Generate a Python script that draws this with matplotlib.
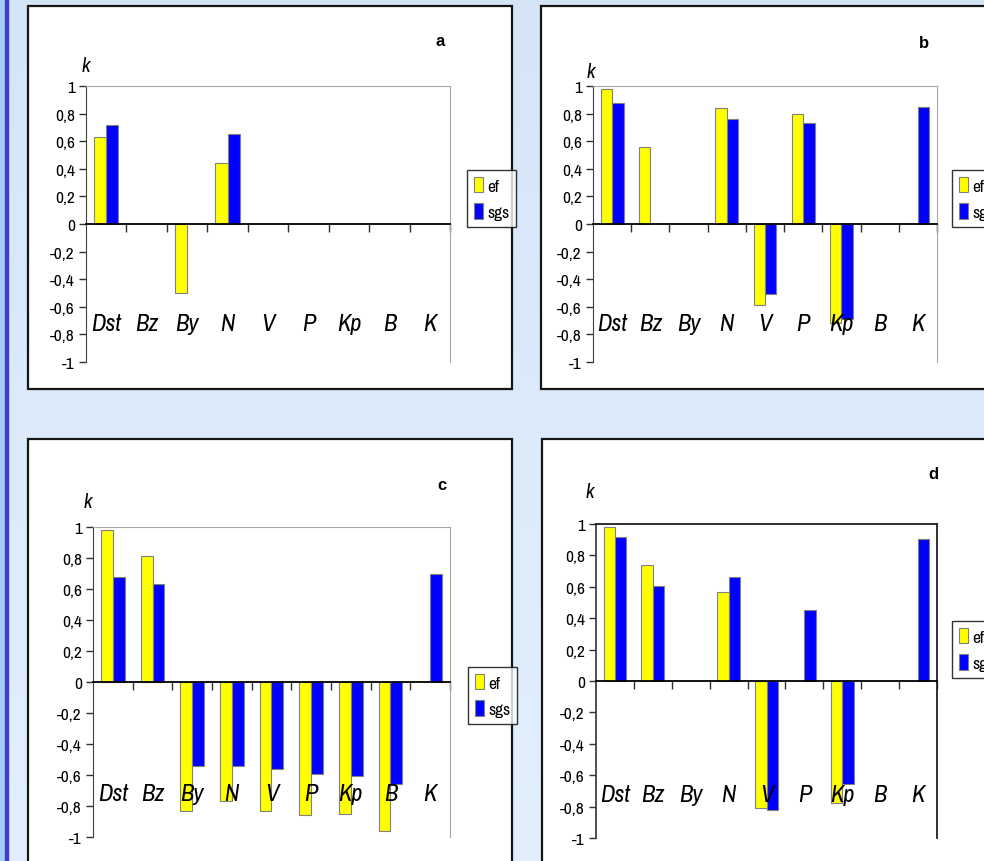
import matplotlib.pyplot as plt
import numpy as np
from matplotlib.patches import Rectangle

plt.rcParams['font.family'] = ['Archivo Narrow', 'Liberation Sans', 'DejaVu Sans']

W, H = 984, 862
nan = np.nan

categories = ['Dst', 'Bz', 'By', 'N', 'V', 'P', 'Kp', 'B', 'K']
series_names = ['ef', 'sgs']

a_ef = [0.63, nan, -0.50, 0.44, nan, nan, nan, nan, nan]
a_sgs = [0.72, nan, nan, 0.65, nan, nan, nan, nan, nan]
b_ef = [0.98, 0.56, nan, 0.84, -0.585, 0.80, -0.72, nan, nan]
b_sgs = [0.88, nan, nan, 0.76, -0.51, 0.73, -0.69, nan, 0.85]
c_ef = [0.98, 0.81, -0.83, -0.77, -0.83, -0.86, -0.85, -0.96, nan]
c_sgs = [0.675, 0.635, -0.545, -0.545, -0.56, -0.595, -0.605, -0.655, 0.695]
d_ef = [0.98, 0.74, nan, 0.57, -0.81, nan, -0.775, nan, nan]
d_sgs = [0.915, 0.605, nan, 0.66, -0.82, 0.45, -0.655, nan, 0.905]

yticks = [-1, -0.8, -0.6, -0.4, -0.2, 0, 0.2, 0.4, 0.6, 0.8, 1]


def px(x0, y0, x1, y1):
    # pixel box (top-left origin) -> figure fraction rect
    return [x0 / W, 1 - y1 / H, (x1 - x0) / W, (y1 - y0) / H]


def fmt(v):
    if abs(v - round(v)) < 1e-9:
        return str(int(round(v)))
    return f"{v:.1f}".replace('.', ',')


fig = plt.figure(figsize=(W / 100, H / 100), dpi=100)

# page background
bg = fig.add_axes([0, 0, 1, 1], zorder=-5)
grad = np.linspace(0, 1, 256).reshape(-1, 1)
top = np.array([0.835, 0.898, 0.972])
bot = np.array([0.890, 0.937, 0.992])
img = top + (bot - top) * grad[..., None]
bg.imshow(img, aspect='auto', extent=[0, 1, 0, 1])
bg.add_patch(Rectangle((0, 0), 5 / W, 1, color='#a6cdf0'))
bg.add_patch(Rectangle((5 / W, 0), 2.5 / W, 1, color='#3c3ccf'))
bg.set_xlim(0, 1)
bg.set_ylim(0, 1)
bg.axis('off')

panels = [
    dict(ef=a_ef, sgs=a_sgs, box=(28, 7, 512, 390), ax=(86, 87, 450, 363),
         leg=(467, 171), letter='a', lpos=(440, 42), kpos=(86, 67), spine='#a8a8a8'),
    dict(ef=b_ef, sgs=b_sgs, box=(541, 7, 1010, 390), ax=(593, 87, 937, 363),
         leg=(952, 171), letter='b', lpos=(924, 43), kpos=(591, 72), spine='#a8a8a8'),
    dict(ef=c_ef, sgs=c_sgs, box=(28, 440, 512, 880), ax=(93, 528, 450, 838),
         leg=(468, 668), letter='c', lpos=(442, 486), kpos=(88, 503), spine='#a8a8a8'),
    dict(ef=d_ef, sgs=d_sgs, box=(542, 440, 1010, 880), ax=(596, 525, 937, 839),
         leg=(952, 622), letter='d', lpos=(933, 475), kpos=(590, 493), spine='#202020'),
]

x = np.arange(len(categories))
bw = 0.3

for p in panels:
    bx0, by0, bx1, by1 = p['box']
    fig.add_artist(Rectangle((bx0 / W, 1 - by1 / H), (bx1 - bx0) / W, (by1 - by0) / H,
                             transform=fig.transFigure, facecolor='white',
                             edgecolor='#151515', lw=1.6, zorder=-1))

    ax = fig.add_axes(px(*p['ax']))
    ef = np.array(p['ef'], dtype=float)
    sgs = np.array(p['sgs'], dtype=float)
    m1 = ~np.isnan(ef)
    m2 = ~np.isnan(sgs)
    h1 = ax.bar(x[m1] - bw / 2, ef[m1], bw, color='#ffff00', edgecolor='#808080', lw=0.8,
                label=series_names[0], zorder=2)
    h2 = ax.bar(x[m2] + bw / 2, sgs[m2], bw, color='#0000ff', edgecolor='#808080', lw=0.8,
                label=series_names[1], zorder=2)

    ax.set_xlim(-0.5, len(categories) - 0.5)
    ax.set_ylim(-1, 1)
    ax.set_yticks(yticks)
    ax.set_yticklabels([fmt(v) for v in yticks], fontsize=12.5)
    ax.set_xticks(np.arange(0.5, len(categories), 1))
    ax.set_xticklabels([])
    ax.tick_params(axis='x', direction='out', length=6, width=1, color='#303030')
    ax.tick_params(axis='y', direction='out', length=5, width=1, color='#303030', pad=3)

    ax.spines['bottom'].set_position(('data', 0))
    ax.spines['bottom'].set_color('black')
    ax.spines['bottom'].set_linewidth(1.3)
    ax.spines['left'].set_color('#404040')
    for s in ['top', 'right']:
        ax.spines[s].set_color(p['spine'])
    if p['letter'] == 'd':
        for s in ['top', 'right', 'left']:
            ax.spines[s].set_linewidth(1.3)

    for i, c in enumerate(categories):
        ax.text(i, -0.72, c, ha='center', va='center', fontsize=17.5, style='italic', zorder=3)

    fig.text(p['kpos'][0] / W, 1 - p['kpos'][1] / H, 'k', style='italic', fontsize=15,
             ha='center', va='center')
    fig.text(p['lpos'][0] / W, 1 - p['lpos'][1] / H, p['letter'], fontweight='bold',
             fontsize=12, ha='center', va='center', family='Liberation Sans')

    leg = fig.legend([h1, h2], series_names, loc='upper left',
                     bbox_to_anchor=(p['leg'][0] / W, 1 - p['leg'][1] / H),
                     prop={'size': 12.5}, frameon=True, fancybox=False, handlelength=0.55,
                     handleheight=1.0, handletextpad=0.2, labelspacing=0.55,
                     borderpad=0.4, borderaxespad=0)
    leg.get_frame().set_edgecolor('black')
    leg.get_frame().set_linewidth(1.0)

fig.savefig('out.png', dpi=100)
